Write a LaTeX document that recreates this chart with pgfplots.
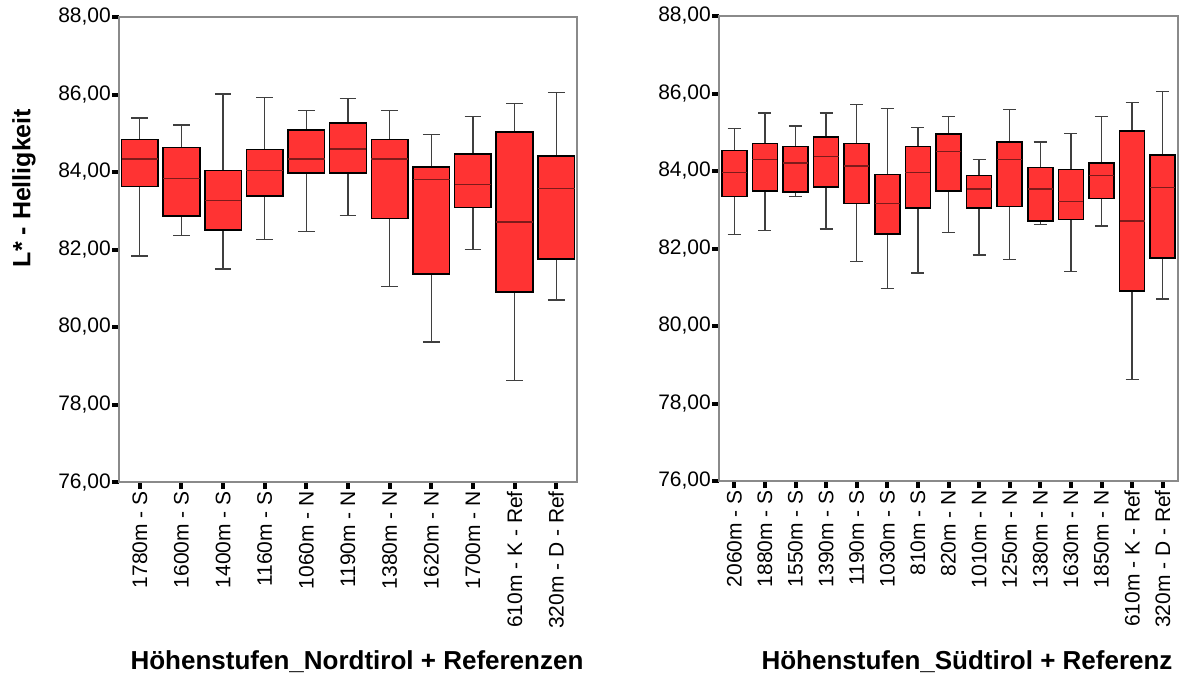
\documentclass[border=0pt]{standalone}
\usepackage{fontspec}
\setmainfont{Liberation Sans}
\usepackage{pgfplots}
\pgfplotsset{compat=1.18}
\usepgfplotslibrary{statistics}
\definecolor{boxred}{HTML}{FF3333}
\definecolor{medred}{HTML}{7E1A1A}
\definecolor{whisk}{HTML}{3F3F3F}
\definecolor{axframe}{HTML}{8A8A8A}
\newcommand{\bx}[6]{\addplot[boxplot prepared={draw position=#1, lower whisker=#2, lower quartile=#3, median=#4, upper quartile=#5, upper whisker=#6}] coordinates {};}
\pgfplotsset{
  spssbox/.style={
    scale only axis, height=465pt,
    ymin=76, ymax=88, enlargelimits=false,
    ytick={76,78,80,82,84,86,88},
    yticklabels={{76,00},{78,00},{80,00},{82,00},{84,00},{86,00},{88,00}},
    tick pos=left, tick align=outside,
    major tick length=7pt,
    major tick style={line width=4pt, black},
    axis line style={draw=axframe, line width=1.2pt},
    every tick label/.append style={font=\fontsize{21}{25}\selectfont},
    yticklabel style={inner sep=1pt},
    xticklabel style={rotate=90, anchor=east, inner sep=2pt},
    boxplot/draw direction=y,
    boxplot/every box/.style={draw=black, line width=1.6pt, fill=boxred},
    boxplot/every median/.style={draw=medred, line width=1.4pt},
    boxplot/every whisker/.style={draw=whisk, line width=1.3pt},
  }
}
\begin{document}
\begin{tikzpicture}
\path[use as bounding box] (0,0) rectangle (1185pt,-675pt);
\begin{axis}[spssbox, at={(119pt,-482pt)}, anchor=south west, width=458pt,
  xmin=-0.5, xmax=10.5,
  xtick={0,...,10},
  xticklabels={1780m - S,1600m - S,1400m - S,1160m - S,1060m - N,1190m - N,1380m - N,1620m - N,1700m - N,610m - K - Ref,320m - D - Ref},
  boxplot/box extend=0.88, boxplot/whisker extend=0.4]
\bx{0}{81.83}{83.63}{84.34}{84.84}{85.39}
\bx{1}{82.37}{82.87}{83.83}{84.63}{85.21}
\bx{2}{81.50}{82.50}{83.26}{84.04}{86.01}
\bx{3}{82.25}{83.38}{84.04}{84.58}{85.92}
\bx{4}{82.46}{83.97}{84.34}{85.09}{85.59}
\bx{5}{82.87}{83.97}{84.59}{85.26}{85.89}
\bx{6}{81.04}{82.80}{84.34}{84.84}{85.59}
\bx{7}{79.61}{81.37}{83.80}{84.13}{84.96}
\bx{8}{82.00}{83.08}{83.67}{84.46}{85.43}
\bx{9}{78.62}{80.91}{82.71}{85.04}{85.76}
\bx{10}{80.70}{81.75}{83.58}{84.42}{86.05}
\end{axis}
\begin{axis}[spssbox, at={(719pt,-481pt)}, anchor=south west, width=459pt,
  xmin=-0.5, xmax=14.5,
  xtick={0,...,14},
  xticklabels={2060m - S,1880m - S,1550m - S,1390m - S,1190m - S,1030m - S,810m - S,820m - N,1010m - N,1250m - N,1380m - N,1630m - N,1850m - N,610m - K - Ref,320m - D - Ref},
  boxplot/box extend=0.82, boxplot/whisker extend=0.43]
\bx{0}{82.37}{83.34}{83.96}{84.53}{85.09}
\bx{1}{82.46}{83.49}{84.29}{84.71}{85.50}
\bx{2}{83.34}{83.46}{84.21}{84.63}{85.16}
\bx{3}{82.50}{83.59}{84.38}{84.87}{85.50}
\bx{4}{81.66}{83.16}{84.13}{84.71}{85.71}
\bx{5}{80.96}{82.37}{83.16}{83.91}{85.62}
\bx{6}{81.37}{83.04}{83.96}{84.63}{85.12}
\bx{7}{82.41}{83.49}{84.50}{84.96}{85.41}
\bx{8}{81.83}{83.04}{83.54}{83.88}{84.29}
\bx{9}{81.71}{83.08}{84.29}{84.75}{85.59}
\bx{10}{82.62}{82.71}{83.54}{84.09}{84.75}
\bx{11}{81.41}{82.75}{83.21}{84.04}{84.96}
\bx{12}{82.58}{83.29}{83.88}{84.21}{85.41}
\bx{13}{78.62}{80.91}{82.71}{85.04}{85.76}
\bx{14}{80.70}{81.75}{83.58}{84.42}{86.05}
\end{axis}
\node[rotate=90, font=\fontsize{25}{30}\selectfont\bfseries] at (24pt,-188pt) {L* - Helligkeit};
\node[font=\fontsize{26}{31}\selectfont\bfseries] at (357pt,-662pt) {Höhenstufen\_Nordtirol + Referenzen};
\node[font=\fontsize{26}{31}\selectfont\bfseries] at (967pt,-662pt) {Höhenstufen\_Südtirol + Referenz};
\end{tikzpicture}
\end{document}
